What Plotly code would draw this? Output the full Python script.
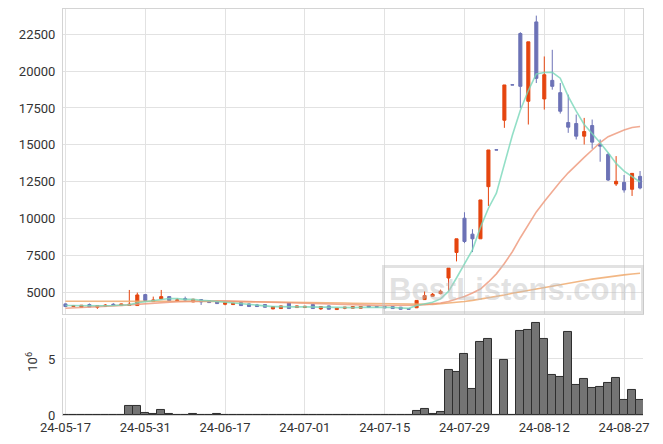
import plotly.graph_objects as go

dates = [
    "2024-05-17", "2024-05-20", "2024-05-21", "2024-05-22", "2024-05-23", "2024-05-24",
    "2024-05-27", "2024-05-28", "2024-05-29", "2024-05-30", "2024-05-31",
    "2024-06-03", "2024-06-04", "2024-06-05", "2024-06-07", "2024-06-10", "2024-06-11",
    "2024-06-12", "2024-06-13", "2024-06-14", "2024-06-17",
    "2024-06-18", "2024-06-19", "2024-06-20", "2024-06-21", "2024-06-24", "2024-06-25",
    "2024-06-26", "2024-06-27", "2024-06-28", "2024-07-01",
    "2024-07-02", "2024-07-03", "2024-07-04", "2024-07-05", "2024-07-08", "2024-07-09",
    "2024-07-10", "2024-07-11", "2024-07-12", "2024-07-15",
    "2024-07-16", "2024-07-17", "2024-07-18", "2024-07-19", "2024-07-22", "2024-07-23",
    "2024-07-24", "2024-07-25", "2024-07-26", "2024-07-29",
    "2024-07-30", "2024-07-31", "2024-08-01", "2024-08-02", "2024-08-05", "2024-08-06",
    "2024-08-07", "2024-08-08", "2024-08-09", "2024-08-12",
    "2024-08-13", "2024-08-14", "2024-08-16", "2024-08-19", "2024-08-20", "2024-08-21",
    "2024-08-22", "2024-08-23", "2024-08-26", "2024-08-27",
    "2024-08-28", "2024-08-29",
]

open_ = [4212, 4040, 3990, 4167, 3990, 4060, 4189, 4100, 4110, 4100,
         4842, 4370, 4550, 4707, 4440, 4572, 4347, 4505, 4437, 4370,
         4189, 4167, 4302, 4212, 4144, 4167, 3874, 3897, 4302, 3964,
         3964, 4167, 3874, 4077, 3829, 3919, 3919, 3919, 4077, 4032,
         4032, 4032, 3987, 3897, 3950, 4505, 4730, 4910, 5968, 7702,
         10022, 8941, 8626, 12162, 14660, 16668, 19070, 22545, 17951, 23333,
         18109, 19370, 18537, 16510, 16442, 15586, 16307, 15023, 14348, 12344,
         12456, 11984, 12861]
high = [4235, 4140, 4140, 4240, 4110, 4200, 4260, 4230, 5158, 4977,
        4870, 4707, 5158, 4740, 4600, 4707, 4560, 4530, 4460, 4400,
        4320, 4280, 4330, 4240, 4212, 4190, 4050, 4100, 4330, 4100,
        4080, 4190, 4050, 4100, 3940, 4010, 4050, 4050, 4100, 4050,
        4060, 4050, 4010, 3920, 4470, 5067, 4950, 5180, 6644, 8626,
        10427, 9279, 11261, 14650, 14660, 19060, 19070, 22635, 21982, 23761,
        20991, 21442, 19190, 18401, 17050, 16825, 16712, 15362, 14460, 14235,
        12951, 13064, 13222]
low = [4010, 4010, 3970, 4000, 3874, 4030, 4110, 4090, 4100, 4090,
       4420, 4350, 4530, 4420, 4420, 4430, 4330, 4144, 4280, 4210,
       4120, 4140, 4080, 4010, 4010, 3960, 3850, 3880, 3880, 3940,
       3940, 3880, 3806, 3830, 3810, 3852, 3900, 3900, 3970, 3970,
       3920, 3880, 3830, 3810, 3930, 4490, 4690, 4860, 5100, 7094,
       8333, 7725, 8626, 10856, 14650, 16150, 19060, 17500, 16375, 19190,
       17388, 18739, 17118, 15812, 15362, 15023, 14730, 13852, 12546, 12209,
       11758, 11533, 11984]
close = [4032, 4100, 4122, 4009, 4100, 4122, 4122, 4212, 4190, 4820,
         4437, 4482, 4707, 4437, 4482, 4482, 4527, 4347, 4302, 4234,
         4302, 4257, 4099, 4032, 4032, 3987, 4032, 4077, 3897, 4077,
         4054, 3897, 4032, 3852, 3919, 3987, 4032, 4032, 3987, 3987,
         3942, 3897, 3852, 3852, 4450, 4775, 4865, 5068, 6644, 8626,
         8446, 8626, 11261, 14650, 14650, 19060, 19060, 18964, 21982, 19505,
         19752, 18964, 17276, 16194, 15586, 15902, 15181, 14910, 12614, 12524,
         11938, 13064, 12073]

ma5 = [4100, 4090, 4080, 4070, 4080, 4090, 4100, 4120, 4150, 4290,
       4360, 4430, 4530, 4580, 4570, 4520, 4530, 4450, 4430, 4380,
       4340, 4290, 4230, 4170, 4120, 4080, 4030, 4030, 4000, 4010,
       4010, 4000, 3990, 3970, 3950, 3940, 3960, 3980, 3990, 4010,
       3990, 3970, 3930, 3910, 4100, 4210, 4320, 4550, 5060, 5970,
       6880, 7880, 9400, 10700, 11720, 13650, 15650, 17350, 18680, 19800,
       19900, 19910, 19520, 18290, 17280, 16380, 15770, 15140, 14460, 13740,
       13220, 12880, 12480]
ma20 = [3920, 3940, 3965, 3990, 4020, 4050, 4080, 4110, 4150, 4200,
        4240, 4280, 4310, 4340, 4360, 4380, 4400, 4410, 4420, 4420,
        4420, 4410, 4400, 4390, 4370, 4350, 4330, 4310, 4290, 4270,
        4250, 4230, 4210, 4190, 4170, 4155, 4145, 4135, 4120, 4110,
        4100, 4095, 4090, 4095, 4120, 4160, 4210, 4270, 4370, 4530,
        4720, 4950, 5220, 5700, 6250, 6950, 7750, 8700, 9600, 10450,
        11150, 11850, 12500, 13100, 13650, 14150, 14650, 15150, 15550, 15800,
        16000, 16170, 16240]
ma60 = [4390, 4392, 4393, 4393, 4392, 4392, 4391, 4391, 4392, 4395,
        4396, 4397, 4398, 4397, 4396, 4394, 4392, 4390, 4387, 4384,
        4380, 4376, 4372, 4367, 4362, 4356, 4350, 4343, 4336, 4328,
        4320, 4310, 4300, 4290, 4280, 4270, 4260, 4248, 4236, 4224,
        4212, 4200, 4186, 4172, 4160, 4160, 4180, 4220, 4260, 4320,
        4380, 4450, 4530, 4620, 4720, 4820, 4930, 5030, 5130, 5240,
        5340, 5430, 5530, 5620, 5720, 5800, 5890, 5970, 6060, 6120,
        6180, 6240, 6290]

volume_m = [0, 0, 0, 0, 0, 0, 0, 0, 0.81, 0.81,
            0.18, 0.06, 0.45, 0.09, 0, 0, 0.06, 0, 0, 0.06,
            0, 0, 0, 0, 0, 0, 0, 0, 0, 0,
            0, 0, 0, 0, 0, 0, 0, 0, 0, 0,
            0, 0, 0, 0, 0.36, 0.54, 0.06, 0.27, 4.0, 3.86,
            5.48, 2.33, 6.56, 6.8, 0, 4.94, 0, 7.51, 7.6, 8.23,
            6.8, 3.56, 3.38, 7.43, 2.66, 3.2, 2.4, 2.49, 2.84, 3.29,
            1.32, 2.22, 1.32]
volume = [v * 1e6 for v in volume_m]

tick_idx = [0, 10, 20, 30, 40, 50, 60, 70]
tick_vals = [dates[i] for i in tick_idx]
tick_text = [dates[i][2:] for i in tick_idx]
price_ticks = [5000, 7500, 10000, 12500, 15000, 17500, 20000, 22500]
price_labels = [str(v) for v in price_ticks]

UP = "#e5450f"
DOWN = "#6c72b6"
GRID = "#e2e2e2"
LINE = "#d4d4d4"
FONT = "Roboto"

fig = go.Figure()
fig.add_trace(go.Candlestick(
    x=dates, open=open_, high=high, low=low, close=close,
    xaxis="x", yaxis="y",
    increasing=dict(line=dict(color=UP, width=1), fillcolor=UP),
    decreasing=dict(line=dict(color=DOWN, width=1), fillcolor=DOWN),
    whiskerwidth=0, showlegend=False,
))
for vals, col in [(ma60, "rgba(240,170,110,0.85)"), (ma20, "rgba(238,150,120,0.8)"),
                  (ma5, "rgba(120,215,185,0.8)")]:
    fig.add_trace(go.Scatter(x=dates, y=vals, mode="lines", xaxis="x", yaxis="y",
                             line=dict(color=col, width=1.6), showlegend=False))
fig.add_trace(go.Bar(
    x=dates, y=volume, xaxis="x2", yaxis="y2", width=1.0,
    marker=dict(color="#747474", line=dict(color="#2e2e2e", width=1)),
    showlegend=False,
))

fig.update_layout(
    width=655, height=436,
    margin=dict(l=55, r=20, t=1, b=29, autoexpand=False),
    paper_bgcolor="white", plot_bgcolor="white",
    font=dict(family=FONT, size=13, color="#333333"),
    boxgap=0.45,
    bargap=0,
    xaxis=dict(domain=[0, 1], anchor="y", type="category", range=[-0.31, 72.37],
               rangeslider=dict(visible=False), tickvals=tick_vals, showticklabels=False,
               showgrid=True, gridcolor=GRID, showline=True, mirror=True, linecolor=LINE,
               zeroline=False, ticks="", automargin=False),
    yaxis=dict(domain=[0.249, 1], anchor="x", range=[3534, 24209], tickvals=price_ticks,
               ticktext=price_labels,
               showgrid=True, gridcolor=GRID, showline=True, mirror=True, linecolor=LINE,
               zeroline=False, ticks="outside", ticklen=4, tickcolor="white", automargin=False),
    xaxis2=dict(domain=[0, 1], anchor="y2", type="category", matches="x",
                range=[-0.31, 72.37], tickvals=tick_vals, ticktext=tick_text,
                showgrid=True, gridcolor=GRID, showline=True, linecolor=LINE,
                zeroline=False, ticks="", tickangle=0, automargin=False),
    yaxis2=dict(domain=[0, 0.239], anchor="x2", range=[0, 8.66e6], tickvals=[0, 5e6],
                ticktext=["0", "5"], showgrid=True, gridcolor=GRID, showline=True,
                linecolor=LINE, zeroline=False, ticks="outside", ticklen=4, tickcolor="white",
                automargin=False),
    annotations=[
        dict(text="10<sup>6</sup>", xref="paper", yref="paper", x=-0.054, y=0.1305,
             xanchor="center", yanchor="middle",
             textangle=-90, showarrow=False, font=dict(family=FONT, size=13, color="#333333")),
        dict(text="<b>BestListens.com</b>", xref="paper", yref="paper", x=0.775, y=0.308,
             xanchor="center", yanchor="middle",
             showarrow=False, font=dict(family="Liberation Sans", size=31,
                                        color="rgba(190,190,190,0.45)"),
             bordercolor="rgba(190,190,190,0.45)", borderwidth=3, borderpad=4),
    ],
)

fig.write_html("out.html")
